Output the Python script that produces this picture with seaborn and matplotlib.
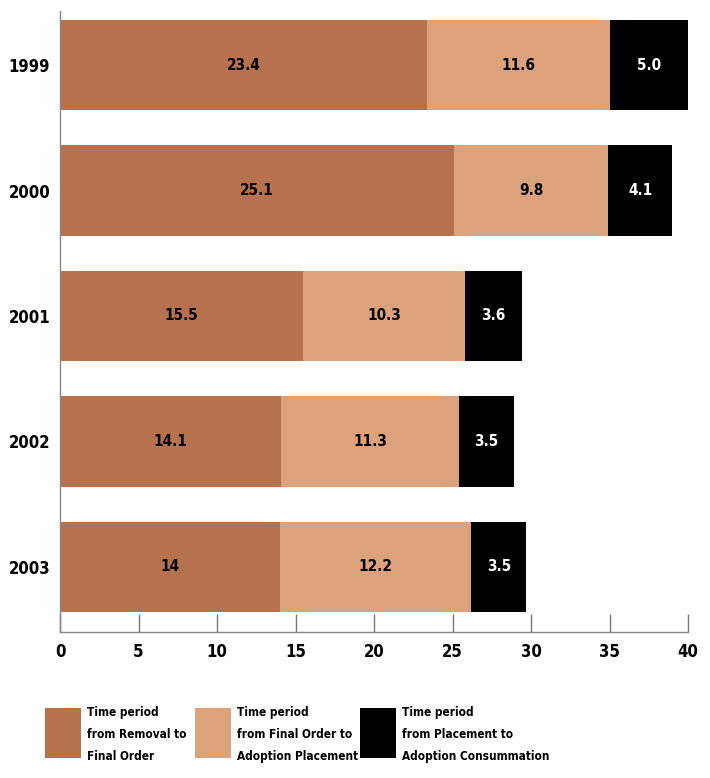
import matplotlib
matplotlib.use("Agg")
import matplotlib.pyplot as plt
from matplotlib.patches import Rectangle
import seaborn as sns
import pandas as pd
import numpy as np

years = ["1999", "2000", "2001", "2002", "2003"]
removal_to_final = [23.4, 25.1, 15.5, 14.1, 14.0]
final_to_placement = [11.6, 9.8, 10.3, 11.3, 12.2]
placement_to_consummation = [5.0, 4.1, 3.6, 3.5, 3.5]

removal_labels = ["23.4", "25.1", "15.5", "14.1", "14"]
final_labels = ["11.6", "9.8", "10.3", "11.3", "12.2"]
placement_labels = ["5.0", "4.1", "3.6", "3.5", "3.5"]

series_names = [
    "Time period\nfrom Removal to\nFinal Order",
    "Time period\nfrom Final Order to\nAdoption Placement",
    "Time period\nfrom Placement to\nAdoption Consummation",
]
colors = ["#b6714f", "#dca27b", "#000000"]
text_colors = ["black", "black", "white"]
xticks = [0, 5, 10, 15, 20, 25, 30, 35, 40]

sns.set_theme(style="white")
FONT = ["DejaVu Sans"]
plt.rcParams["font.family"] = FONT
plt.rcParams["font.stretch"] = "condensed"
plt.rcParams["text.color"] = "black"
plt.rcParams["xtick.color"] = "black"
plt.rcParams["ytick.color"] = "black"

fig = plt.figure(figsize=(7.10, 7.78), dpi=100)
ax = fig.add_axes([60 / 710, 1 - 632 / 778, (688 - 60) / 710, (632 - 10) / 778])

layers = [removal_to_final, final_to_placement, placement_to_consummation]
cum = np.cumsum(np.array(layers), axis=0)
df = pd.DataFrame({"year": years})
for i in range(3):
    df[f"cum{i}"] = cum[i]

# draw the cumulative totals from the outermost segment inward
for i in [2, 1, 0]:
    sns.barplot(data=df, x=f"cum{i}", y="year", orient="h", color=colors[i],
                width=0.72, saturation=1, ax=ax, linewidth=0, order=years)

label_sets = [removal_labels, final_labels, placement_labels]
for i in range(3):
    starts = cum[i] - np.array(layers[i])
    for j, yr in enumerate(years):
        xc = starts[j] + layers[i][j] / 2
        ax.text(xc, j, label_sets[i][j], ha="center", va="center",
                fontsize=11, fontweight="bold", color=text_colors[i],
                fontstretch="condensed")

ax.set_xlim(0, 40)
ax.set_ylim(4.52, -0.44)
ax.set_xticks(xticks)
ax.set_xticklabels([str(t) for t in xticks], fontsize=12, fontweight="bold",
                   fontstretch="condensed")
ax.set_yticks(range(len(years)))
ax.set_yticklabels(years, fontsize=12, fontweight="bold", fontstretch="condensed")
ax.set_xlabel("")
ax.set_ylabel("")

ax.tick_params(axis="x", direction="in", length=13, width=1, color="#777777",
               pad=8, bottom=True)
ax.tick_params(axis="y", length=0, pad=7)
for side in ["top", "right"]:
    ax.spines[side].set_visible(False)
for side in ["left", "bottom"]:
    ax.spines[side].set_color("#888888")
    ax.spines[side].set_linewidth(1)
    ax.spines[side].set_linestyle((0, (1, 1)))

# legend drawn as swatches with wrapped captions
legend_x = [45, 195, 360]
for k in range(3):
    x0 = legend_x[k]
    fig.add_artist(Rectangle((x0 / 710, 1 - 758 / 778), 36 / 710, 50 / 778,
                             transform=fig.transFigure, facecolor=colors[k],
                             edgecolor="none"))
    fig.text((x0 + 42) / 710, 1 - 706 / 778, series_names[k], ha="left", va="top",
             fontsize=8.5, fontweight="bold", linespacing=1.9,
             fontstretch="condensed")

fig.savefig("out.png", dpi=100)
